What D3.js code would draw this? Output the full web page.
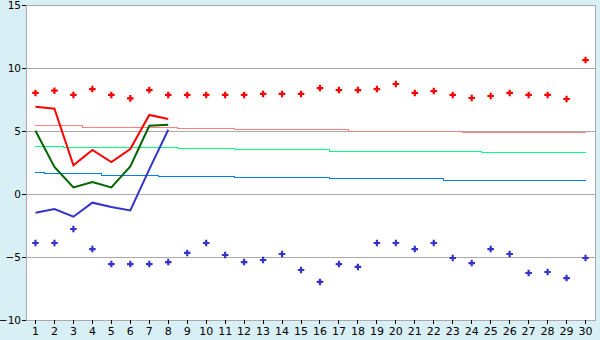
<!DOCTYPE html>
<html>
<head>
<meta charset="utf-8">
<script src="https://cdn.jsdelivr.net/npm/d3@7"></script>
<style>
  html, body { margin: 0; padding: 0; background: #d9eff6; }
  svg { display: block; font-family: "DejaVu Sans", Verdana, sans-serif; }
</style>
</head>
<body>
<div id="chart"></div>
<script>
// categories 1..30
const categories = d3.range(1, 31).map(String);
const yTicks = [-10, -5, 0, 5, 10, 15];

// scattered markers
const upperPoints = [8.02, 8.2, 7.86, 8.33, 7.86, 7.59, 8.25, 7.86, 7.86, 7.86,
  7.86, 7.86, 7.94, 7.94, 7.94, 8.41, 8.25, 8.25, 8.33, 8.73,
  8.02, 8.17, 7.86, 7.62, 7.78, 8.02, 7.86, 7.86, 7.54, 10.63];
const lowerPoints = [-3.89, -3.89, -2.78, -4.37, -5.56, -5.56, -5.56, -5.4, -4.68, -3.89,
  -4.84, -5.4, -5.24, -4.76, -6.03, -6.98, -5.56, -5.79, -3.89, -3.89,
  -4.37, -3.89, -5.08, -5.48, -4.37, -4.76, -6.27, -6.19, -6.67, -5.08];

// thick lines, first 8 categories only
const redLine = [6.93, 6.77, 2.27, 3.49, 2.54, 3.57, 6.27, 5.95];
const greenLine = [5.02, 2.14, 0.52, 0.95, 0.52, 2.19, 5.42, 5.5];
const blueLine = [-1.48, -1.19, -1.8, -0.69, -1.03, -1.3, 1.95, 5.1];

// thin reference lines
const pinkRef = [5.5, 5.5, 5.5, 5.32, 5.32, 5.32, 5.32, 5.32, 5.26, 5.26,
  5.26, 5.18, 5.18, 5.18, 5.18, 5.18, 5.18, 5.02, 5.02, 5.02,
  5.02, 5.02, 5.02, 4.92, 4.92, 4.92, 4.92, 4.92, 4.92, 4.92];
const greenRef = [3.82, 3.82, 3.74, 3.74, 3.74, 3.74, 3.74, 3.74, 3.65, 3.65,
  3.65, 3.57, 3.57, 3.57, 3.57, 3.57, 3.41, 3.41, 3.41, 3.41,
  3.41, 3.41, 3.41, 3.41, 3.33, 3.33, 3.33, 3.33, 3.33, 3.33];
const blueRef = [1.77, 1.69, 1.69, 1.69, 1.53, 1.53, 1.53, 1.45, 1.45, 1.45,
  1.45, 1.37, 1.37, 1.37, 1.37, 1.37, 1.27, 1.27, 1.27, 1.27,
  1.27, 1.27, 1.11, 1.11, 1.11, 1.11, 1.11, 1.11, 1.11, 1.11];

const width = 600, height = 340;
const margin = { top: 5, right: 5, bottom: 20, left: 26 };

const svg = d3.select('#chart')
  .append('svg')
  .attr('width', width)
  .attr('height', height);

svg.append('rect')
  .attr('width', width).attr('height', height)
  .attr('fill', '#d9eff6');

const x = d3.scaleBand()
  .domain(categories)
  .range([margin.left, width - margin.right]);

const y = d3.scaleLinear()
  .domain([-10, 15])
  .range([height - margin.bottom, margin.top]);

const cx = i => x(categories[i]) + x.bandwidth() / 2;

// plot area
svg.append('rect')
  .attr('x', margin.left).attr('y', margin.top)
  .attr('width', width - margin.left - margin.right)
  .attr('height', height - margin.top - margin.bottom)
  .attr('fill', '#fff');

// gridlines
svg.append('g')
  .selectAll('line')
  .data(yTicks)
  .join('line')
  .attr('x1', margin.left).attr('x2', width - margin.right)
  .attr('y1', d => Math.round(y(d)) + 0.5)
  .attr('y2', d => Math.round(y(d)) + 0.5)
  .attr('stroke', '#aaa')
  .attr('shape-rendering', 'crispEdges');

// right border
svg.append('line')
  .attr('x1', width - margin.right + 0.5).attr('x2', width - margin.right + 0.5)
  .attr('y1', margin.top).attr('y2', height - margin.bottom)
  .attr('stroke', '#aaa')
  .attr('shape-rendering', 'crispEdges');

// axes
const yAxis = svg.append('g')
  .attr('transform', `translate(${margin.left},0)`)
  .call(d3.axisLeft(y).tickValues(yTicks).tickSize(4).tickPadding(1).tickSizeOuter(0));

const xAxis = svg.append('g')
  .attr('transform', `translate(0,${height - margin.bottom})`)
  .call(d3.axisBottom(x).tickSize(4).tickPadding(3).tickSizeOuter(0));

[yAxis, xAxis].forEach(a => {
  a.select('.domain').attr('stroke', '#aaa').attr('shape-rendering', 'crispEdges');
  a.selectAll('.tick line').attr('stroke', '#000').attr('shape-rendering', 'crispEdges');
  a.selectAll('text').attr('fill', '#000').attr('font-size', 11)
    .attr('font-family', '"DejaVu Sans", Verdana, sans-serif');
});
yAxis.selectAll('text').attr('font-size', 10.5);

// thin stepped reference lines
const stepLine = d3.line()
  .x((d, i) => cx(i))
  .y(d => Math.round(y(d)) + 0.5)
  .curve(d3.curveStep);

[[pinkRef, '#ff8080'], [greenRef, '#00ff80'], [blueRef, '#0080ff']].forEach(([data, color]) => {
  svg.append('path')
    .datum(data)
    .attr('d', stepLine)
    .attr('fill', 'none')
    .attr('stroke', color)
    .attr('stroke-width', 1)
    .attr('shape-rendering', 'crispEdges');
});

// thick lines
const line = d3.line()
  .x((d, i) => cx(i))
  .y(d => y(d));

[[redLine, '#ff0000'], [greenLine, '#006400'], [blueLine, '#3333cc']].forEach(([data, color]) => {
  svg.append('path')
    .datum(data)
    .attr('d', line)
    .attr('fill', 'none')
    .attr('stroke', color)
    .attr('stroke-width', 2);
});

// markers
const cross = d3.symbol().type(d3.symbolCross).size(24);

[[upperPoints, '#ff0000'], [lowerPoints, '#3333cc']].forEach(([data, color]) => {
  svg.append('g')
    .selectAll('path')
    .data(data)
    .join('path')
    .attr('transform', (d, i) => `translate(${cx(i)},${y(d)})`)
    .attr('d', cross)
    .attr('fill', color);
});
</script>
</body>
</html>
